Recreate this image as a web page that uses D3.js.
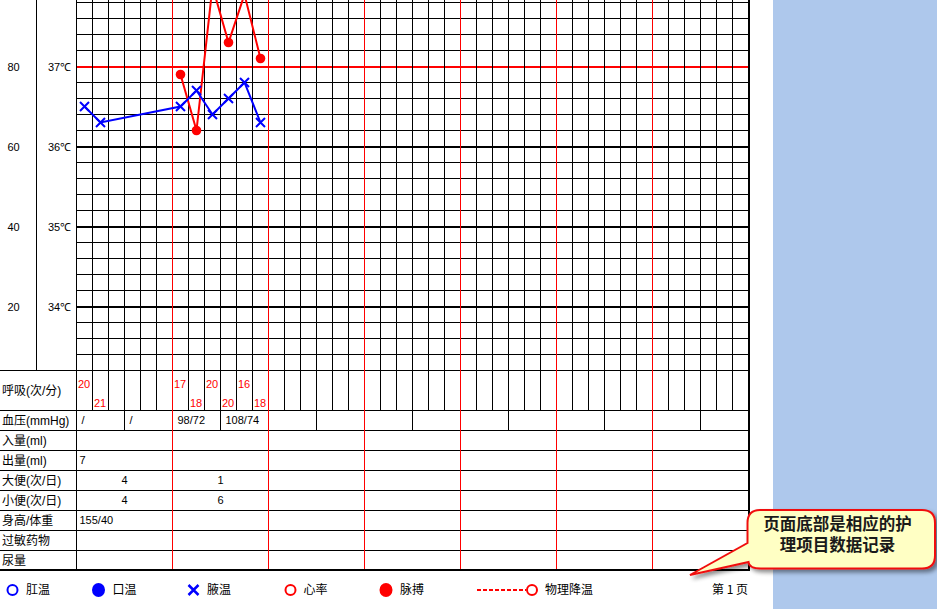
<!DOCTYPE html>
<html><head><meta charset="utf-8">
<script src="https://cdn.jsdelivr.net/npm/d3@7"></script>
<style>
html,body{margin:0;padding:0;background:#fff;}
svg{display:block;}
</style></head><body>
<svg id="c" width="937" height="609"></svg>
<script>
// ---------------- data ----------------
const tempSlots = [0, 1, 6, 7, 8, 9, 10, 11];
const axillaryTemp = [36.5, 36.3, 36.5, 36.7, 36.4, 36.6, 36.8, 36.3];
const pulseSlots = [6, 7, 8, 9, 10, 11];
const pulseRate = [78, 64, 100, 86, 98, 82];
const respSlots = [0, 1, 6, 7, 8, 9, 10, 11];
const respRate = [20, 21, 17, 18, 20, 20, 16, 18];
const bpCells = [0, 1, 2, 3];
const bloodPressure = ["/", "/", "98/72", "108/74"];
const tempTicks = [34, 35, 36, 37];
const pulseTicks = [20, 40, 60, 80];
const rowLabels = ["入量(ml)", "出量(ml)", "大便(次/日)", "小便(次/日)", "身高/体重", "过敏药物", "尿量"];
const outputDays = [0];
const outputValues = ["7"];
const stoolDays = [0, 1];
const stoolValues = ["4", "1"];
const urineDays = [0, 1];
const urineValues = ["4", "6"];
const hwDays = [0];
const heightWeight = ["155/40"];
const legendLabels = ["肛温", "口温", "腋温", "心率", "脉搏", "物理降温"];
const pageLabel = "第 1 页";
const calloutLines = ["页面底部是相应的护", "理项目数据记录"];

// ---------------- layout ----------------
const svg = d3.select("#c");
const NCOL = 42, SLOTS_PER_DAY = 6;
const x = d3.scaleLinear().domain([0, NCOL]).range([76.5, 748.5]);
const yT = d3.scaleLinear().domain([33.2, 38]).range([370.5, -13.5]);
const yP = d3.scaleLinear().domain([20, 80]).range([yT(34), yT(37)]);
const RED = "#ff0000", BLUE = "#0000ff";
const NUMFONT = "'Liberation Sans', Arial, sans-serif";
const CJK = "'Liberation Sans','Noto Sans CJK SC', sans-serif";

// right blue panel
svg.append("rect").attr("x", 773).attr("y", 0).attr("width", 164).attr("height", 609).attr("fill", "#aec8ec");

const g = svg.append("g");

// horizontal grid lines (every 0.2 °C)
const hVals = d3.range(0, 25).map(k => +(33.2 + 0.2 * k).toFixed(1));
hVals.forEach(t => {
  const whole = Math.abs(t - Math.round(t)) < 1e-6;
  const isRed = whole && Math.round(t) === 37;
  const thick = whole && t >= 34 && t <= 38;
  g.append("line")
    .attr("x1", x(0)).attr("x2", x(NCOL))
    .attr("y1", thick ? yT(t) + 0.5 : yT(t)).attr("y2", thick ? yT(t) + 0.5 : yT(t))
    .attr("stroke", isRed ? RED : "#000").attr("stroke-width", thick ? 2 : 1);
});

// vertical grid lines in chart area (black)
d3.range(0, NCOL).forEach(i => {
  if (i % SLOTS_PER_DAY === 0 && i > 0) return;
  g.append("line").attr("x1", x(i)).attr("x2", x(i)).attr("y1", 0).attr("y2", 410.5).attr("stroke", "#000");
});
// BP row verticals every half day
d3.range(0, NCOL, 3).forEach(i => {
  g.append("line").attr("x1", x(i)).attr("x2", x(i)).attr("y1", 410.5).attr("y2", 430.5).attr("stroke", "#000");
});
// left boundary of data area through lower rows
g.append("line").attr("x1", x(0)).attr("x2", x(0)).attr("y1", 370.5).attr("y2", 570).attr("stroke", "#000");
// pulse/temp axis separator
g.append("line").attr("x1", 36.5).attr("x2", 36.5).attr("y1", 0).attr("y2", 370.5).attr("stroke", "#000");

// row lines of lower table
const rowTops = [370.5, 410.5, 430.5, 450.5, 470.5, 490.5, 510.5, 530.5, 550.5];
rowTops.forEach(y => {
  g.append("line").attr("x1", 0).attr("x2", 749).attr("y1", y).attr("y2", y).attr("stroke", "#000");
});

// red day separators
d3.range(SLOTS_PER_DAY, NCOL, SLOTS_PER_DAY).forEach(i => {
  g.append("line").attr("x1", x(i)).attr("x2", x(i)).attr("y1", 0).attr("y2", 569).attr("stroke", RED);
});

// outer borders
g.append("line").attr("x1", 749).attr("x2", 749).attr("y1", 0).attr("y2", 571).attr("stroke", "#000").attr("stroke-width", 2);
g.append("line").attr("x1", 0).attr("x2", 750).attr("y1", 570).attr("y2", 570).attr("stroke", "#000").attr("stroke-width", 2);

// axes labels (pulse & temperature)
const pulseAxis = d3.axisRight(yP).tickValues(pulseTicks).tickSize(0).tickFormat(d => d);
const tempAxis = d3.axisRight(yT).tickValues(tempTicks).tickSize(0).tickFormat(d => d + "℃");
[[pulseAxis, 13.5], [tempAxis, 59.5]].forEach(([ax, px]) => {
  const a = svg.append("g").attr("transform", `translate(${px},0)`).call(ax);
  a.select(".domain").remove();
  a.selectAll("text").attr("x", 0).attr("dy", "0.35em").attr("text-anchor", "middle")
    .attr("font-family", NUMFONT).attr("font-size", 11).attr("fill", "#000");
});

// row labels
const labelRows = [["呼吸(次/分)", 390.5], ["血压(mmHg)", 420.5]].concat(rowLabels.map((l, k) => [l, 440.5 + 20 * k]));
labelRows.forEach(([t, y]) => {
  svg.append("text").attr("x", 2).attr("y", y).attr("dy", "0.35em")
    .attr("font-family", CJK).attr("font-size", 12).attr("fill", "#000").text(t);
});

// respiration values
svg.selectAll("text.resp").data(respSlots).join("text").attr("class", "resp")
  .attr("x", d => x(d) + 1.5)
  .attr("y", (d, i) => d % 2 === 0 ? 384 : 403.5).attr("dy", "0.35em")
  .attr("font-family", NUMFONT).attr("font-size", 11).attr("fill", RED)
  .text((d, i) => respRate[i]);

// blood pressure
svg.selectAll("text.bp").data(bpCells).join("text").attr("class", "bp")
  .attr("x", d => x(d * 3) + 5).attr("y", 420.5).attr("dy", "0.35em")
  .attr("font-family", NUMFONT).attr("font-size", 11).attr("fill", "#000")
  .text((d, i) => bloodPressure[i]);

// lower table values
function leftText(days, vals, y) {
  days.forEach((d, i) => svg.append("text").attr("x", x(d * SLOTS_PER_DAY) + 3).attr("y", y).attr("dy", "0.35em")
    .attr("font-family", NUMFONT).attr("font-size", 11).attr("fill", "#000").text(vals[i]));
}
function centerText(days, vals, y) {
  days.forEach((d, i) => svg.append("text").attr("x", x(d * SLOTS_PER_DAY + 3)).attr("y", y).attr("dy", "0.35em")
    .attr("text-anchor", "middle").attr("font-family", NUMFONT).attr("font-size", 11).attr("fill", "#000").text(vals[i]));
}
leftText(outputDays, outputValues, 460.5);
centerText(stoolDays, stoolValues, 480.5);
centerText(urineDays, urineValues, 500.5);
leftText(hwDays, heightWeight, 520.5);

// ---------------- series ----------------
svg.append("clipPath").attr("id", "cl").append("rect").attr("x", 0).attr("y", 0).attr("width", 749).attr("height", 370);
const marks = svg.append("g").attr("clip-path", "url(#cl)");

const pulsePts = pulseSlots.map((s, i) => [x(s + 0.5), yP(pulseRate[i])]);
marks.append("path").attr("d", d3.line()(pulsePts)).attr("fill", "none").attr("stroke", RED).attr("stroke-width", 2);
marks.selectAll("circle.p").data(pulsePts).join("circle").attr("class", "p")
  .attr("cx", d => d[0]).attr("cy", d => d[1]).attr("r", 4.8).attr("fill", RED);

const tempPts = tempSlots.map((s, i) => [x(s + 0.5), yT(axillaryTemp[i])]);
marks.append("path").attr("d", d3.line()(tempPts)).attr("fill", "none").attr("stroke", BLUE).attr("stroke-width", 2);
const s = 4.5;
marks.selectAll("path.x").data(tempPts).join("path").attr("class", "x")
  .attr("d", d => `M${d[0]-s},${d[1]-s}L${d[0]+s},${d[1]+s}M${d[0]-s},${d[1]+s}L${d[0]+s},${d[1]-s}`)
  .attr("stroke", BLUE).attr("stroke-width", 2).attr("fill", "none");

// ---------------- legend ----------------
const ly = 590;
const lg = svg.append("g");
lg.append("circle").attr("cx", 12.5).attr("cy", ly).attr("r", 5).attr("fill", "none").attr("stroke", BLUE).attr("stroke-width", 2);
lg.append("ellipse").attr("cx", 98.5).attr("cy", ly).attr("rx", 6.5).attr("ry", 7).attr("fill", BLUE);
lg.append("path").attr("d", `M188.5,${ly-5}L198.5,${ly+5}M188.5,${ly+5}L198.5,${ly-5}`).attr("stroke", BLUE).attr("stroke-width", 2.5);
lg.append("circle").attr("cx", 290.5).attr("cy", ly).attr("r", 5).attr("fill", "none").attr("stroke", RED).attr("stroke-width", 2);
lg.append("ellipse").attr("cx", 386).attr("cy", ly).attr("rx", 6.5).attr("ry", 7).attr("fill", RED);
lg.append("line").attr("x1", 477).attr("x2", 526).attr("y1", ly).attr("y2", ly).attr("stroke", RED).attr("stroke-width", 2).attr("stroke-dasharray", "4,2");
lg.append("circle").attr("cx", 532).attr("cy", ly).attr("r", 5).attr("fill", "#fff").attr("stroke", RED).attr("stroke-width", 2);
const legendX = [26, 112.5, 207, 303.5, 400, 545];
legendLabels.forEach((t, i) => lg.append("text").attr("x", legendX[i]).attr("y", ly).attr("dy", "0.35em")
  .attr("font-family", "'Noto Sans CJK SC', sans-serif").attr("font-size", 12).attr("fill", "#000").text(t));
lg.append("text").attr("x", 712).attr("y", ly).attr("dy", "0.35em")
  .attr("font-family", "'Noto Sans CJK SC', sans-serif").attr("font-size", 12).attr("fill", "#000").text(pageLabel);

// ---------------- callout ----------------
const defs = svg.append("defs");
const f = defs.append("filter").attr("id", "sh").attr("x", "-10%").attr("y", "-20%").attr("width", "130%").attr("height", "150%");
f.append("feDropShadow").attr("dx", 3).attr("dy", 3).attr("stdDeviation", 2).attr("flood-color", "#000").attr("flood-opacity", 0.45);
svg.append("path")
  .attr("d", "M760,510 H922 Q935,510 935,523 V555.5 Q935,568.5 922,568.5 H761 Q749,568.5 748.5,562 L690,575 L747.5,543 V523 Q747.5,510 760,510 Z")
  .attr("fill", "#ffffc4").attr("stroke", "#f01010").attr("stroke-width", 2).attr("filter", "url(#sh)");
calloutLines.forEach((t, i) => svg.append("text").attr("x", 837.5).attr("y", 524.5 + 21 * i).attr("dy", "0.36em")
  .attr("text-anchor", "middle").attr("font-family", "'Noto Sans CJK SC', sans-serif").attr("font-weight", "bold")
  .attr("font-size", 16.5).attr("fill", "#1a1a1a").text(t));
</script>
</body></html>
